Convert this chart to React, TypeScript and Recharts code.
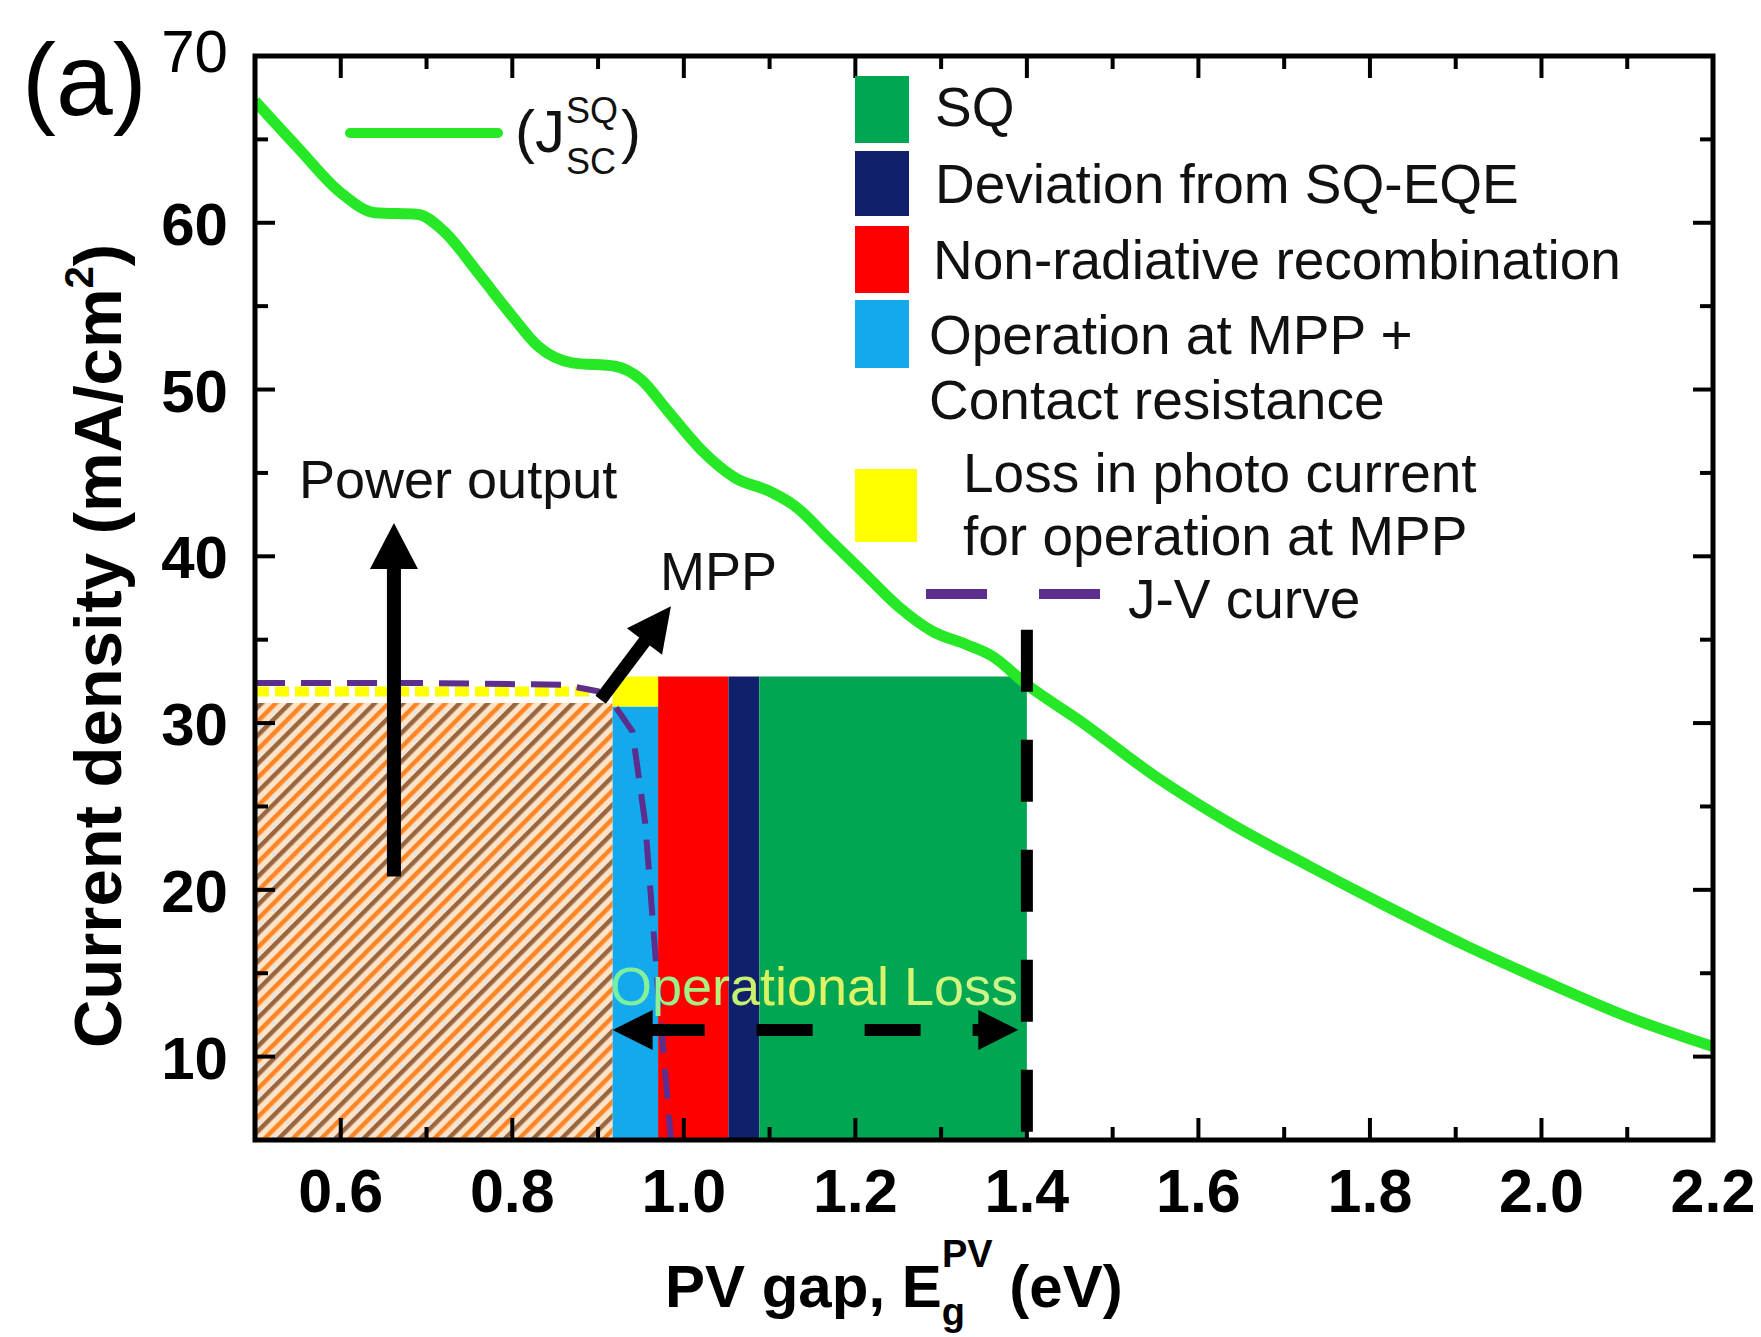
import React from 'react';
import { ComposedChart, Line, XAxis, YAxis, ReferenceArea, ReferenceLine } from 'recharts';

const FONT = '"Liberation Sans", Arial, Helvetica, sans-serif';
const W = 1761;
const H = 1337;
const PLOT = { left: 255, right: 1713, top: 56, bottom: 1140 };

// SQ short-circuit current density vs PV gap
const gapEV = [0.5, 0.55, 0.6, 0.64, 0.69, 0.72, 0.76, 0.8, 0.83, 0.87, 0.92, 0.95, 0.98, 1.02, 1.06, 1.1, 1.13, 1.17, 1.21, 1.25, 1.29, 1.33, 1.36, 1.4, 1.46, 1.55, 1.64, 1.73, 1.82, 1.91, 2.0, 2.1, 2.2];
const jscSQ = [67.3, 64.5, 61.8, 60.6, 60.5, 59.5, 57.0, 54.4, 52.6, 51.6, 51.4, 50.6, 48.8, 46.4, 44.7, 43.9, 43.0, 41.0, 39.0, 37.0, 35.5, 34.7, 34.0, 32.3, 30.2, 26.8, 23.9, 21.4, 19.0, 16.7, 14.6, 12.4, 10.6];

// J-V curve (dashed purple)
const jvGap = [0.5, 0.7, 0.86, 0.9, 0.92, 0.94, 0.955, 0.97, 0.985];
const jvJ = [32.4, 32.4, 32.3, 31.9, 31.0, 29.5, 24.0, 14.0, 5.0];

// loss bars, left to right
const lossNames = ['Operation at MPP + Contact resistance', 'Non-radiative recombination', 'Deviation from SQ-EQE', 'SQ'];
const lossFrom = [0.917, 0.97, 1.052, 1.088];
const lossTo = [0.97, 1.052, 1.088, 1.4];
const lossTop = [31.0, 32.8, 32.8, 32.8];
const J_FLOOR = 5;

const powerBox = [0.5, 0.917, 31.2]; // from, to, top
const photoLossBox = [0.917, 0.97, 31.0, 32.8]; // from, to, bottom, top
const mppLine = [0.5, 0.89, 31.9]; // from, to, level
const sqEdge = [1.4, 35.6]; // gap, top of dashed line

const powerArrow = [[0.662, 20.8], [0.662, 42.0]];
const mppArrow = [[0.903, 31.4], [0.985, 37.0]];
const lossArrow = [[0.917, 11.6], [1.39, 11.6]];

const xTicks = [0.5, 0.6, 0.7, 0.8, 0.9, 1.0, 1.1, 1.2, 1.3, 1.4, 1.5, 1.6, 1.7, 1.8, 1.9, 2.0, 2.1, 2.2];
const yTicks = [5, 10, 15, 20, 25, 30, 35, 40, 45, 50, 55, 60, 65, 70];

const COLORS = {
  sq: '#00a651',
  dev: '#10206a',
  nonrad: '#ff0000',
  mpp: '#14a9ec',
  photo: '#ffff00',
  jsc: '#27e827',
  jv: '#5d2e8e',
};
const lossColors = [COLORS.mpp, COLORS.nonrad, COLORS.dev, COLORS.sq];

const jscData = gapEV.map((e, i) => ({ e, j: jscSQ[i] }));
const jvData = jvGap.map((e, i) => ({ e, j: jvJ[i] }));

function XTick(props: any) {
  const { x, payload } = props;
  const v = payload.value as number;
  const major = Math.round(v * 10) % 2 === 0;
  const len = major ? 22 : 13;
  return (
    <g>
      <line x1={x} x2={x} y1={PLOT.bottom} y2={PLOT.bottom - len} stroke="#000" strokeWidth={4} />
      <line x1={x} x2={x} y1={PLOT.top} y2={PLOT.top + len} stroke="#000" strokeWidth={4} />
      {major && (
        <text x={x} y={PLOT.bottom + 72} textAnchor="middle" fontFamily={FONT} fontWeight={700} fontSize={61} fill="#000">
          {v.toFixed(1)}
        </text>
      )}
    </g>
  );
}

function YTick(props: any) {
  const { y, payload } = props;
  const v = payload.value as number;
  const major = v % 10 === 0;
  const len = major ? 20 : 13;
  return (
    <g>
      <line x1={PLOT.left} x2={PLOT.left + len} y1={y} y2={y} stroke="#000" strokeWidth={4} />
      <line x1={PLOT.right} x2={PLOT.right - len} y1={y} y2={y} stroke="#000" strokeWidth={4} />
      {major && (
        <text
          x={PLOT.left - 27}
          y={v === 70 ? y + 16 : y + 22}
          textAnchor="end"
          fontFamily={FONT}
          fontWeight={v === 70 ? 400 : 700}
          fontSize={60}
          fill="#000"
        >
          {v}
        </text>
      )}
    </g>
  );
}

function arrowShape(opts: { width: number; head: number; headW: number; dash?: string; both?: boolean }) {
  return (p: any) => {
    const { x1, y1, x2, y2 } = p;
    const dx = x2 - x1;
    const dy = y2 - y1;
    const len = Math.hypot(dx, dy) || 1;
    const ux = dx / len;
    const uy = dy / len;
    const nx = -uy;
    const ny = ux;
    const head = (tx: number, ty: number, ddx: number, ddy: number) => {
      const bx = tx - ddx * opts.head;
      const by = ty - ddy * opts.head;
      const hw = opts.headW / 2;
      return `${tx},${ty} ${bx + nx * hw},${by + ny * hw} ${bx - nx * hw},${by - ny * hw}`;
    };
    const sx = opts.both ? x1 + ux * opts.head * 0.9 : x1;
    const sy = opts.both ? y1 + uy * opts.head * 0.9 : y1;
    return (
      <g>
        <line
          x1={sx}
          y1={sy}
          x2={x2 - ux * opts.head * 0.9}
          y2={y2 - uy * opts.head * 0.9}
          stroke="#000"
          strokeWidth={opts.width}
          strokeDasharray={opts.dash}
        />
        <polygon points={head(x2, y2, ux, uy)} fill="#000" />
        {opts.both && <polygon points={head(x1, y1, -ux, -uy)} fill="#000" />}
      </g>
    );
  };
}

const legendText = { fontFamily: FONT, fontSize: 55, fill: '#111' };

export default function App() {
  return (
    <div style={{ position: 'relative', width: W, height: H, background: '#fff' }}>
      <style>{'body{margin:0}'}</style>
      <svg width={0} height={0} style={{ position: 'absolute' }}>
        <defs>
          <pattern id="hatch" width={20} height={20} patternUnits="userSpaceOnUse" patternTransform="rotate(45)">
            <rect width={20} height={20} fill="#fde4c8" />
            <rect x={0} width={4.5} height={20} fill="#9a6640" />
            <rect x={10} width={4.5} height={20} fill="#ff8424" />
            <circle cx={17.2} cy={10} r={1.8} fill="#cfe9ff" />
          </pattern>
        </defs>
      </svg>

      <ComposedChart width={W} height={H} margin={{ top: 56, right: 48, bottom: 137, left: 175 }}>
        <XAxis
          type="number"
          dataKey="e"
          domain={[0.5, 2.2]}
          ticks={xTicks}
          interval={0}
          height={60}
          axisLine={false}
          tickLine={false}
          tick={(p: any) => <XTick {...p} />}
          allowDataOverflow
        />
        <YAxis
          type="number"
          domain={[5, 70]}
          ticks={yTicks}
          interval={0}
          width={80}
          axisLine={false}
          tickLine={false}
          tick={(p: any) => <YTick {...p} />}
          allowDataOverflow
        />
        <ReferenceArea x1={powerBox[0]} x2={powerBox[1]} y1={J_FLOOR} y2={powerBox[2]} fill="url(#hatch)" fillOpacity={1} stroke="none" />
        {lossFrom.map((f, i) => (
          <ReferenceArea key={lossNames[i]} x1={f} x2={lossTo[i]} y1={J_FLOOR} y2={lossTop[i]} fill={lossColors[i]} fillOpacity={1} stroke="none" />
        ))}
        <ReferenceArea x1={photoLossBox[0]} x2={photoLossBox[1]} y1={photoLossBox[2]} y2={photoLossBox[3]} fill={COLORS.photo} fillOpacity={1} stroke="none" />
        <ReferenceLine
          segment={[{ x: mppLine[0], y: mppLine[2] }, { x: mppLine[1], y: mppLine[2] }]}
          stroke={COLORS.photo}
          strokeWidth={10}
          strokeDasharray="14 6"
        />
        <Line data={jvData} dataKey="j" type="linear" stroke={COLORS.jv} strokeWidth={6} strokeDasharray="30 16" dot={false} activeDot={false} isAnimationActive={false} />
        <Line data={jscData} dataKey="j" type="monotone" stroke={COLORS.jsc} strokeWidth={11} dot={false} activeDot={false} isAnimationActive={false} />
        <ReferenceLine
          segment={[{ x: sqEdge[0], y: sqEdge[1] }, { x: sqEdge[0], y: J_FLOOR }]}
          stroke="#000"
          strokeWidth={12}
          strokeDasharray="62 48"
        />
        <ReferenceLine
          segment={[{ x: powerArrow[0][0], y: powerArrow[0][1] }, { x: powerArrow[1][0], y: powerArrow[1][1] }]}
          shape={arrowShape({ width: 14, head: 46, headW: 48 })}
        />
        <ReferenceLine
          segment={[{ x: mppArrow[0][0], y: mppArrow[0][1] }, { x: mppArrow[1][0], y: mppArrow[1][1] }]}
          shape={arrowShape({ width: 13, head: 44, headW: 44 })}
        />
        <ReferenceLine
          segment={[{ x: lossArrow[0][0], y: lossArrow[0][1] }, { x: lossArrow[1][0], y: lossArrow[1][1] }]}
          shape={arrowShape({ width: 12, head: 40, headW: 40, dash: '56 52', both: true })}
        />
      </ComposedChart>

      <svg width={W} height={H} style={{ position: 'absolute', left: 0, top: 0, pointerEvents: 'none' }}>
        <defs>
          <linearGradient id="opLoss" x1="0" y1="0" x2="1" y2="0">
            <stop offset="0%" stopColor="#6ff0a8" />
            <stop offset="45%" stopColor="#e6f25a" />
            <stop offset="100%" stopColor="#c8f58e" />
          </linearGradient>
        </defs>
        <rect x={PLOT.left} y={PLOT.top} width={PLOT.right - PLOT.left} height={PLOT.bottom - PLOT.top} fill="none" stroke="#000" strokeWidth={5} />

        <text x={22} y={115} fontFamily={FONT} fontSize={102} fill="#000">(a)</text>

        {/* axis titles */}
        <text transform="translate(121,646) rotate(-90)" textAnchor="middle" fontFamily={FONT} fontWeight={700} fontSize={67} fill="#000">
          Current density (mA/cm<tspan fontSize={40} dy={-28}>2</tspan><tspan dy={28}>)</tspan>
        </text>
        <text x={665} y={1307} fontFamily={FONT} fontWeight={700} fontSize={60} fill="#000">
          PV gap, E<tspan fontSize={38} dy={18}>g</tspan>
          <tspan fontSize={38} dx={-23} dy={-58}>PV</tspan>
          <tspan dy={40}> (eV)</tspan>
        </text>

        {/* annotations */}
        <text x={299} y={498} fontFamily={FONT} fontSize={54} fill="#111">Power output</text>
        <text x={660} y={590} fontFamily={FONT} fontSize={54} fill="#111">MPP</text>
        <text x={814} y={1005} textAnchor="middle" fontFamily={FONT} fontSize={54} fill="url(#opLoss)">Operational Loss</text>

        {/* J_sc legend */}
        <line x1={350} x2={498} y1={133} y2={133} stroke={COLORS.jsc} strokeWidth={10} strokeLinecap="round" />
        <text x={515} y={152} fontFamily={FONT} fontSize={60} fill="#111">(J</text>
        <text x={566} y={123} fontFamily={FONT} fontSize={36} fill="#111">SQ</text>
        <text x={566} y={174} fontFamily={FONT} fontSize={36} fill="#111">SC</text>
        <text x={621} y={152} fontFamily={FONT} fontSize={60} fill="#111">)</text>

        {/* bar legend */}
        <rect x={855} y={76} width={54} height={67} fill={COLORS.sq} />
        <text x={935} y={126} {...legendText}>{lossNames[3]}</text>
        <rect x={855} y={151} width={54} height={65} fill={COLORS.dev} />
        <text x={935} y={203} {...legendText}>{lossNames[2]}</text>
        <rect x={855} y={226} width={54} height={67} fill={COLORS.nonrad} />
        <text x={933} y={279} {...legendText}>{lossNames[1]}</text>
        <rect x={855} y={300} width={54} height={68} fill={COLORS.mpp} />
        <text x={929} y={354} {...legendText}>Operation at MPP +</text>
        <text x={929} y={419} {...legendText}>Contact resistance</text>
        <rect x={855} y={469} width={62} height={73} fill={COLORS.photo} />
        <text x={963} y={492} {...legendText}>Loss in photo current</text>
        <text x={963} y={555} {...legendText}>for operation at MPP</text>
        <line x1={926} x2={987} y1={594} y2={594} stroke={COLORS.jv} strokeWidth={10} />
        <line x1={1039} x2={1100} y1={594} y2={594} stroke={COLORS.jv} strokeWidth={10} />
        <text x={1128} y={618} {...legendText}>J-V curve</text>
      </svg>
    </div>
  );
}
